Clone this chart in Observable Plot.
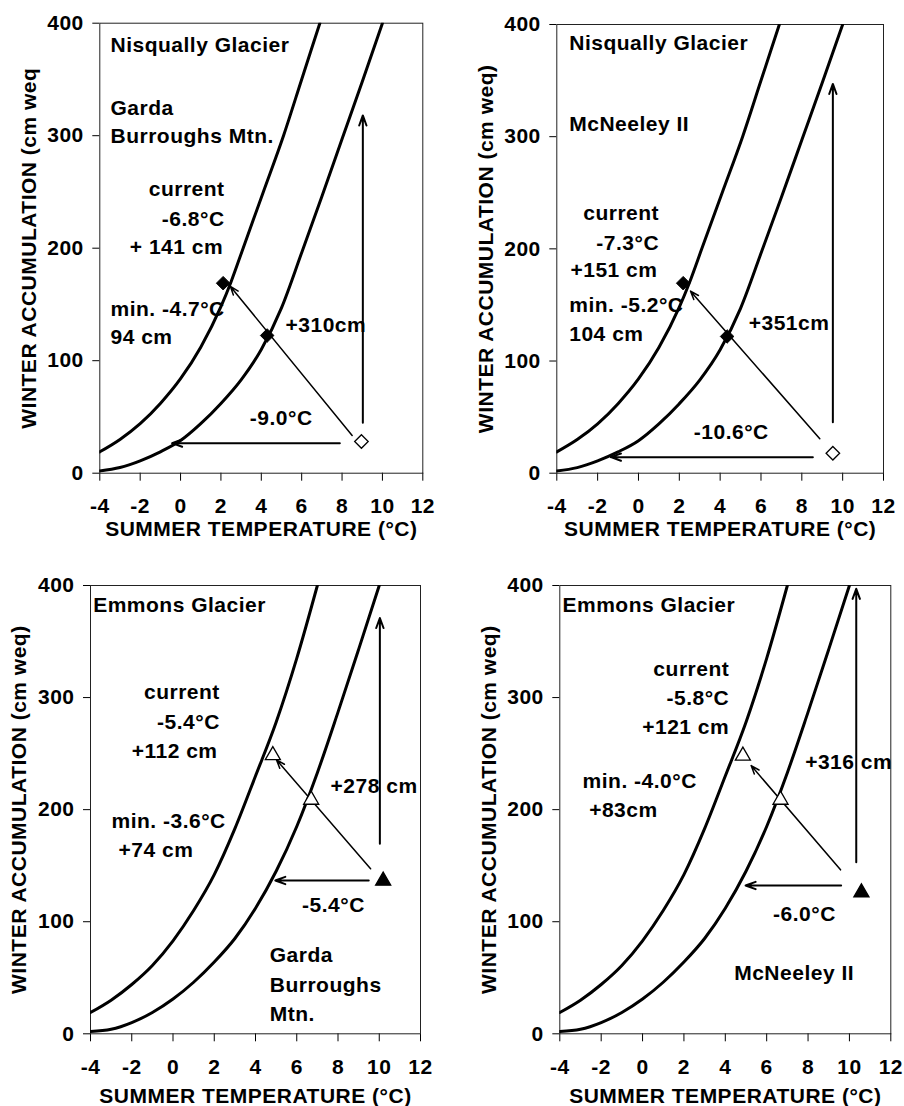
<!DOCTYPE html>
<html>
<head>
<meta charset="utf-8">
<script src="https://cdn.jsdelivr.net/npm/d3@7"></script>
<script src="https://cdn.jsdelivr.net/npm/@observablehq/plot@0.6"></script>
<style>
  body { margin: 0; background: #fff; }
  #chart { position: relative; width: 904px; height: 1106px; background: #fff; }
  #chart svg { position: absolute; }
</style>
</head>
<body>
<div id="chart"></div>
<script>
// ---------- data ----------
const xTicks = [-4, -2, 0, 2, 4, 6, 8, 10, 12];
const yTicks = [0, 100, 200, 300, 400];
const xLabel = "SUMMER TEMPERATURE (°C)";

// curves: [summer temperature °C, winter accumulation cm weq]
const nisquallyUpper = [[-4,19],[-3,30],[-2,44],[-1,62],[0,84],[1,112],[2,148],[2.5,170],[3.1,200],[4.1,250],[5.1,300],[6,350],[6.9,400]];
const nisquallyLower = [[-4,2],[-3,5],[-2,11],[-1,19],[0,29],[1,44],[2,62],[3,83],[4,110],[5,147],[6,196],[7,246],[8,297],[9,348],[10,400]];
const emmonsUpper = [[-4,19],[-3,30],[-2,44],[-1,61],[0,83],[1,110],[2,142],[3,183],[4,230],[5,278],[6,335],[7,400]];
const emmonsLower = [[-4,2],[-3,4],[-2,10],[-1,19],[0,31],[1,46],[2,64],[3,85],[4,112],[5,145],[6,185],[7,233],[8,287],[9,343],[10,400]];

// markers: t = temperature, a = accumulation, kind = glacier point / site point
const markers1 = [{t:2.11,a:168.9,kind:"glacier"},{t:4.29,a:122.4,kind:"glacier"},{t:8.96,a:28.2,kind:"site"}];
const markers2 = [{t:2.19,a:169.4,kind:"glacier"},{t:4.34,a:121.9,kind:"glacier"},{t:9.52,a:17.8,kind:"site"}];
const markers3 = [{t:4.84,a:250.3,kind:"glacier"},{t:6.70,a:210.5,kind:"glacier"},{t:10.19,a:138.3,kind:"site"}];
const markers4 = [{t:4.85,a:249.8,kind:"glacier"},{t:6.67,a:210.5,kind:"glacier"},{t:10.58,a:127.8,kind:"site"}];

// arrows: diagonal (cooling+wetting), vertical (accumulation), horizontal (cooling)
const arrows1 = [{t1:8.5,a1:33.5,t2:2.47,a2:166,kind:"diag"},{t1:9.03,a1:44.8,t2:9.03,a2:318,kind:"axis"},{t1:7.89,a1:26.7,t2:-0.42,a2:26.7,kind:"axis"}];
const arrows2 = [{t1:8.88,a1:30.7,t2:2.55,a2:162.3,kind:"diag"},{t1:9.52,a1:45.5,t2:9.52,a2:347,kind:"axis"},{t1:8.54,a1:14.3,t2:-1.35,a2:14.3,kind:"axis"}];
const arrows3 = [{t1:9.58,a1:147.2,t2:5.02,a2:244.4,kind:"diag"},{t1:10.03,a1:169.5,t2:10.03,a2:371,kind:"axis"},{t1:9.49,a1:136.8,t2:4.96,a2:136.8,kind:"axis"}];
const arrows4 = [{t1:9.57,a1:146.3,t2:5.25,a2:239.3,kind:"diag"},{t1:10.33,a1:153,t2:10.33,a2:397,kind:"axis"},{t1:9.6,a1:132.3,t2:4.98,a2:132.3,kind:"axis"}];

// text annotations (anchored in data coordinates)
const labels1 = [
  {t:-3.47,a:380.2,text:"Nisqually Glacier",anchor:"start"},
  {t:-3.47,a:324.2,text:"Garda",anchor:"start"},
  {t:-3.47,a:299.3,text:"Burroughs Mtn.",anchor:"start"},
  {t:2.18,a:252.2,text:"current",anchor:"end"},
  {t:2.18,a:226.1,text:"-6.8°C",anchor:"end"},
  {t:2.11,a:200.9,text:"+ 141 cm",anchor:"end"},
  {t:-3.47,a:145.5,text:"min. -4.7°C",anchor:"start"},
  {t:-3.47,a:120.9,text:"94 cm",anchor:"start"},
  {t:5.2,a:131.3,text:"+310cm",anchor:"start"},
  {t:3.43,a:48.4,text:"-9.0°C",anchor:"start"}
];
const labels2 = [
  {t:-3.39,a:383.1,text:"Nisqually Glacier",anchor:"start"},
  {t:-3.39,a:311.5,text:"McNeeley II",anchor:"start"},
  {t:1.01,a:231.3,text:"current",anchor:"end"},
  {t:1.01,a:205.0,text:"-7.3°C",anchor:"end"},
  {t:0.93,a:180.7,text:"+151 cm",anchor:"end"},
  {t:-3.39,a:149.5,text:"min. -5.2°C",anchor:"start"},
  {t:-3.39,a:124.3,text:"104 cm",anchor:"start"},
  {t:5.40,a:134.1,text:"+351cm",anchor:"start"},
  {t:2.71,a:36.6,text:"-10.6°C",anchor:"start"}
];
const labels3 = [
  {t:-3.87,a:382.1,text:"Emmons Glacier",anchor:"start"},
  {t:2.27,a:304.7,text:"current",anchor:"end"},
  {t:2.27,a:278.0,text:"-5.4°C",anchor:"end"},
  {t:2.16,a:251.8,text:"+112 cm",anchor:"end"},
  {t:-2.98,a:189.4,text:"min. -3.6°C",anchor:"start"},
  {t:-2.64,a:164.1,text:"+74 cm",anchor:"start"},
  {t:7.64,a:220.9,text:"+278 cm",anchor:"start"},
  {t:6.26,a:115.1,text:"-5.4°C",anchor:"start"},
  {t:4.69,a:69.8,text:"Garda",anchor:"start"},
  {t:4.69,a:43.1,text:"Burroughs",anchor:"start"},
  {t:4.69,a:17.8,text:"Mtn.",anchor:"start"}
];
const labels4 = [
  {t:-3.87,a:382.1,text:"Emmons Glacier",anchor:"start"},
  {t:4.19,a:325.6,text:"current",anchor:"end"},
  {t:4.19,a:299.7,text:"-5.8°C",anchor:"end"},
  {t:4.19,a:273.5,text:"+121 cm",anchor:"end"},
  {t:-2.90,a:225.1,text:"min. -4.0°C",anchor:"start"},
  {t:-2.58,a:199.2,text:"+83cm",anchor:"start"},
  {t:7.86,a:242.3,text:"+316 cm",anchor:"start"},
  {t:6.31,a:107.0,text:"-6.0°C",anchor:"start"},
  {t:4.43,a:54.1,text:"McNeeley II",anchor:"start"}
];

// ---------- drawing ----------
const squareDiamond = {
  draw(context, size) {
    const r = Math.sqrt(size / 2);
    context.moveTo(0, -r); context.lineTo(r, 0); context.lineTo(0, r); context.lineTo(-r, 0); context.closePath();
  }
};

function panel({left, top, m, upper, lower, markers, arrows, labels, symbol, yLabel}) {
  const isDiamond = symbol === "diamond";
  const sym = isDiamond ? squareDiamond : "triangle";
  const r = isDiamond ? 5.4 : 5.6;
  const mdy = isDiamond ? 0 : 2;
  const svg = Plot.plot({
    width: 452, height: 553,
    marginLeft: m[0], marginTop: m[1], marginRight: m[2], marginBottom: m[3],
    style: {fontFamily: "'Liberation Sans', Arial, sans-serif", fontSize: "21px", fontWeight: "bold", background: "transparent", overflow: "visible", letterSpacing: "0.5px", color: "#000"},
    x: {domain: [-4, 12], ticks: xTicks, tickSize: 8, tickPadding: 17, tickFormat: d => String(d), label: null},
    y: {domain: [0, 400], ticks: yTicks, tickSize: 7, tickPadding: 9, tickFormat: d => String(d), label: null},
    marks: [
      Plot.frame({stroke: "#222", strokeWidth: 1}),
      Plot.line(upper, {x: d => d[0], y: d => d[1], stroke: "#000", strokeWidth: 3, curve: "monotone-x", clip: true}),
      Plot.line(lower, {x: d => d[0], y: d => d[1], stroke: "#000", strokeWidth: 3, curve: "monotone-x", clip: true}),
      Plot.arrow(arrows.filter(d => d.kind === "diag"), {x1: "t1", y1: "a1", x2: "t2", y2: "a2", stroke: "#000", strokeWidth: 1.5, headLength: 9, headAngle: 40}),
      Plot.arrow(arrows.filter(d => d.kind === "axis"), {x1: "t1", y1: "a1", x2: "t2", y2: "a2", stroke: "#000", strokeWidth: 2, headLength: 8, headAngle: 40}),
      Plot.dot(markers.filter(d => d.kind === "glacier"), {x: "t", y: "a", symbol: sym, r, dy: mdy,
        fill: isDiamond ? "#000" : "#fff", stroke: "#000", strokeWidth: isDiamond ? 1 : 1.3}),
      Plot.dot(markers.filter(d => d.kind === "site"), {x: "t", y: "a", symbol: sym, r, dy: mdy,
        fill: isDiamond ? "#fff" : "#000", stroke: "#000", strokeWidth: 1.3}),
      Plot.text(labels.filter(d => d.anchor === "start"), {x: "t", y: "a", text: "text", textAnchor: "start", fill: "#000"}),
      Plot.text(labels.filter(d => d.anchor === "end"), {x: "t", y: "a", text: "text", textAnchor: "end", fill: "#000"}),
      Plot.text([xLabel], {text: d => d, frameAnchor: "bottom", textAnchor: "middle", lineAnchor: "middle", dy: m[4], fill: "#000"}),
      Plot.text([yLabel], {text: d => d, frameAnchor: "left", textAnchor: "middle", lineAnchor: "middle", rotate: -90, dx: -71, fill: "#000"})
    ]
  });
  svg.style.left = left + "px";
  svg.style.top = top + "px";
  document.getElementById("chart").appendChild(svg);
}

panel({left: 0, top: 0, m: [99.3, 22.7, 29.7, 80.3, 56], upper: nisquallyUpper, lower: nisquallyLower,
  markers: markers1, arrows: arrows1, labels: labels1, symbol: "diamond", yLabel: "WINTER ACCUMULATION (cm weq"});
panel({left: 452, top: 0, m: [104.3, 24, 21, 80.3, 56], upper: nisquallyUpper, lower: nisquallyLower,
  markers: markers2, arrows: arrows2, labels: labels2, symbol: "diamond", yLabel: "WINTER ACCUMULATION (cm weq)"});
panel({left: 0, top: 553, m: [90, 32, 32, 72.7, 62], upper: emmonsUpper, lower: emmonsLower,
  markers: markers3, arrows: arrows3, labels: labels3, symbol: "triangle", yLabel: "WINTER ACCUMULATION (cm weq)"});
panel({left: 452, top: 553, m: [107.3, 32, 13.7, 72.7, 62], upper: emmonsUpper, lower: emmonsLower,
  markers: markers4, arrows: arrows4, labels: labels4, symbol: "triangle", yLabel: "WINTER ACCUMULATION (cm weq)"});
</script>
</body>
</html>
